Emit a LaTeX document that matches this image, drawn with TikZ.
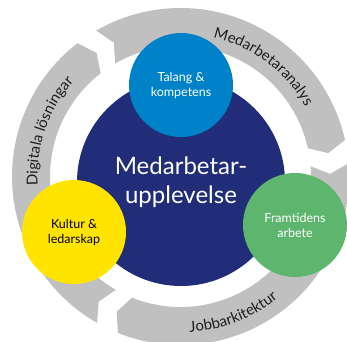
\documentclass[tikz,border=0pt]{standalone}
\usepackage{fontspec}
\setmainfont{Lato}
\usetikzlibrary{decorations.text}

\definecolor{ringgray}{RGB}{192,192,192}
\definecolor{ringink}{RGB}{30,30,30}
\definecolor{darkblue}{RGB}{33,45,120}
\definecolor{talangblue}{RGB}{0,130,200}
\definecolor{kulturyellow}{RGB}{255,228,0}
\definecolor{framtidgreen}{RGB}{94,181,110}

\newcommand{\ringfont}{\fontsize{15}{15}\selectfont}

\begin{document}
\begin{tikzpicture}[x=1pt, y=1pt,
    theme/.style={circle, minimum size=104pt, inner sep=0pt, align=center,
                  font=\fontsize{12.5}{15}\selectfont},
    ringlabel/.style={decorate, decoration={text along path, text align=center,
                  text color=ringink, text={|\ringfont|#1}}}]
                \useasboundingbox (0,0) rectangle (347,341);
                % Ring
                \begin{scope}[shift={(180.5,164.5)}]
                    \foreach \s/\e in {120/12.5, 4.5/-111.8, -119.7/-232.3}{
                        \fill[ringgray] (\s:168.5pt) arc[start angle=\s, end angle=\e, radius=168.5pt]
                            -- (\e-3.5:149.5pt) -- (\e:130.5pt)
                            arc[start angle=\e, end angle=\s, radius=130.5pt]
                            -- (\s-3.5:149.5pt) -- cycle;
                    }
                    \path[ringlabel=Medarbetaranalys] (100:143pt) arc[start angle=100, end angle=6, radius=143pt];
                    \path[ringlabel=Jobbarkitektur] (-110:156pt) arc[start angle=-110, end angle=-28, radius=156pt];
                    \path[ringlabel=Digitala lösningar] (220:143pt) arc[start angle=220, end angle=102, radius=143pt];
                \end{scope}
                % Nodes
                \node[circle, fill=darkblue, minimum size=208pt, text=white, align=center,
                      font=\fontsize{24}{29}\selectfont] (medarbetar) at (181,159) {Medarbetar-\\upplevelse};
                \node[theme, fill=talangblue, text=white] (talang) at (181,256) {Talang \&\\kompetens};
                \node[theme, fill=kulturyellow, text=black] (kultur) at (74,109) {Kultur \&\\ledarskap};
                \node[theme, fill=framtidgreen, text=white] (framtid) at (295,116) {Framtidens\\arbete};
            \end{tikzpicture}
\end{document}
